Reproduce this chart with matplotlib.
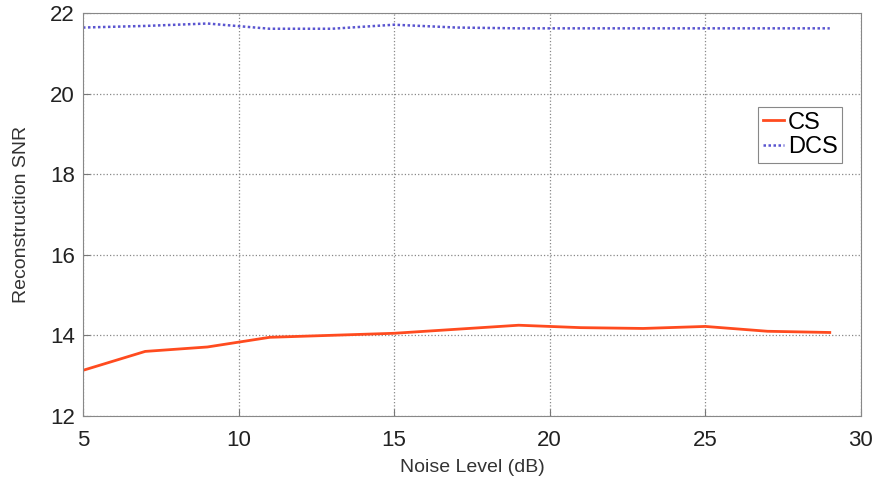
import numpy as np
import matplotlib.pyplot as plt

plt.rcParams['font.family'] = ['Liberation Sans', 'DejaVu Sans']

noise = [5, 7, 9, 11, 13, 15, 17, 19, 21, 23, 25, 27, 29]
cs = [13.13, 13.60, 13.71, 13.95, 14.00, 14.05, 14.15, 14.25, 14.19, 14.17, 14.22, 14.10, 14.07]
dcs = [21.64, 21.68, 21.74, 21.61, 21.61, 21.71, 21.64, 21.62, 21.62, 21.62, 21.62, 21.62, 21.62]

fig = plt.figure(figsize=(8.78, 4.83), dpi=100)
ax = fig.add_axes([0.0945, 0.139, 0.886, 0.834])

ax.plot(noise, cs, lw=2, color='#ff4b1f', label='CS')
ax.plot(noise, dcs, lw=1.8, color='#5a55d0', ls=(0, (1, 1)), label='DCS')

ax.set_xlim(5, 30)
ax.set_ylim(12, 22)
ax.set_xticks([5, 10, 15, 20, 25, 30])
ax.set_yticks([12, 14, 16, 18, 20, 22])
ax.grid(True, ls=':', color='#888888', lw=0.9)
ax.tick_params(direction='in', labelsize=16, length=5, color='#777777', labelcolor='#222222')
ax.tick_params(axis='x', pad=10)
ax.tick_params(axis='y', pad=6)
for s in ax.spines.values():
    s.set_color('#888888')

ax.set_xlabel('Noise Level (dB)', fontsize=14, color='#333333', labelpad=6)
ax.set_ylabel('Reconstruction SNR', fontsize=14, color='#333333', labelpad=14)

leg = ax.legend(loc='upper left', bbox_to_anchor=(0.868, 0.767), fontsize=17,
                fancybox=False, edgecolor='#888888', framealpha=1,
                handlelength=0.9, handletextpad=0.15, borderpad=0.2,
                labelspacing=0.1, borderaxespad=0)
leg.get_frame().set_linewidth(0.8)

plt.savefig('out.png')
